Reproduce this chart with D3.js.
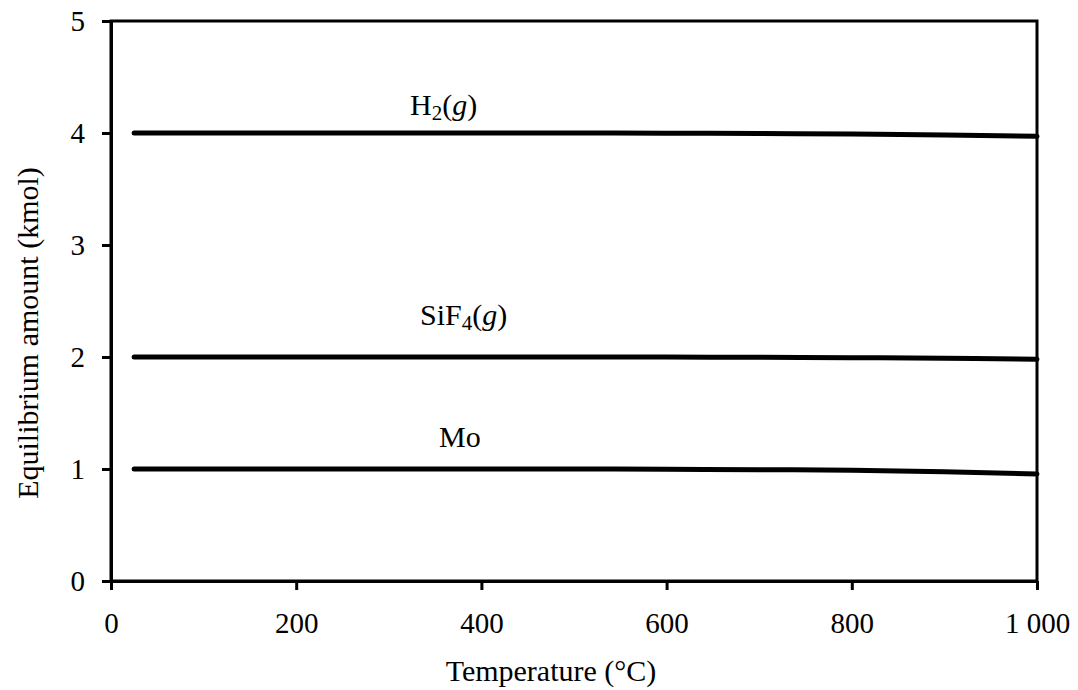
<!DOCTYPE html>
<html>
<head>
<meta charset="utf-8">
<script src="https://cdn.jsdelivr.net/npm/d3@7"></script>
<style>
  html, body { margin: 0; padding: 0; background: #fff; }
  svg text { font-family: "Liberation Serif", "Times New Roman", serif; fill: #000; }
</style>
</head>
<body>
<svg id="chart" width="1078" height="690"></svg>
<script>
// Temperature grid (°C) and equilibrium amounts (kmol)
const temperature = [25, 100, 200, 300, 400, 500, 600, 700, 800, 900, 1000];
const h2 = [4.0, 4.0, 4.0, 4.0, 4.0, 4.0, 3.998, 3.995, 3.99, 3.982, 3.97];
const sif4 = [2.0, 2.0, 2.0, 2.0, 2.0, 2.0, 1.999, 1.997, 1.994, 1.988, 1.98];
const mo = [1.0, 1.0, 1.0, 1.0, 1.0, 1.0, 0.998, 0.994, 0.988, 0.975, 0.955];
const xTicks = [0, 200, 400, 600, 800, 1000];
const yTicks = [0, 1, 2, 3, 4, 5];

const svg = d3.select("#chart");
const plotL = 111, plotR = 1037, plotT = 21, plotB = 581;

const x = d3.scaleLinear().domain([0, 1000]).range([plotL, plotR]);
const y = d3.scaleLinear().domain([0, 5]).range([plotB, plotT]);

// Thousands separated by a space, e.g. "1 000"
const fmt = v => d3.format(",")(v).replace(/,/g, " ");

// Plot frame
svg.append("rect")
  .attr("x", plotL).attr("y", plotT)
  .attr("width", plotR - plotL).attr("height", plotB - plotT)
  .attr("fill", "none").attr("stroke", "#000").attr("stroke-width", 3);

// Y axis
const yAxis = svg.append("g").attr("transform", `translate(${plotL},0)`)
  .call(d3.axisLeft(y).tickValues(yTicks).tickSize(9).tickSizeOuter(0).tickFormat(d => d));
yAxis.select(".domain").attr("stroke-width", 3);
yAxis.selectAll(".tick line").attr("stroke-width", 3);
yAxis.selectAll(".tick text").attr("x", -26).attr("dy", "0.33em")
  .style("font-size", "29px").style("font-family", "Liberation Serif");

// X axis
const xAxis = svg.append("g").attr("transform", `translate(0,${plotB})`)
  .call(d3.axisBottom(x).tickValues(xTicks).tickSize(9).tickSizeOuter(0).tickFormat(fmt));
xAxis.select(".domain").attr("stroke-width", 3);
xAxis.selectAll(".tick line").attr("stroke-width", 3);
xAxis.selectAll(".tick text").attr("y", 52).attr("dy", 0)
  .style("font-size", "29px").style("font-family", "Liberation Serif");

// Axis titles
svg.append("text")
  .attr("x", 551).attr("y", 681)
  .attr("text-anchor", "middle").style("font-size", "30px")
  .text("Temperature (°C)");
svg.append("text")
  .attr("transform", `translate(38,333) rotate(-90)`)
  .attr("text-anchor", "middle").style("font-size", "30px")
  .text("Equilibrium amount (kmol)");

// Series lines
const line = d3.line()
  .x((d, i) => x(temperature[i]))
  .y(d => y(d))
  .curve(d3.curveMonotoneX);

[h2, sif4, mo].forEach(s => {
  svg.append("path").datum(s)
    .attr("d", line)
    .attr("fill", "none").attr("stroke", "#000")
    .attr("stroke-width", 5).attr("stroke-linecap", "round");
});

// Series labels
function label(xPos, yPos, parts) {
  const t = svg.append("text").attr("x", xPos).attr("y", yPos).style("font-size", "30px");
  parts.forEach(p => {
    const s = t.append("tspan").text(p.text);
    if (p.sub) s.attr("baseline-shift", "-25%").style("font-size", "21px");
    if (p.italic) s.style("font-style", "italic");
  });
}
label(410, 115, [{text: "H"}, {text: "2", sub: true}, {text: "("}, {text: "g", italic: true}, {text: ")"}]);
label(420, 325, [{text: "SiF"}, {text: "4", sub: true}, {text: "("}, {text: "g", italic: true}, {text: ")"}]);
label(439, 447, [{text: "Mo"}]);
</script>
</body>
</html>
